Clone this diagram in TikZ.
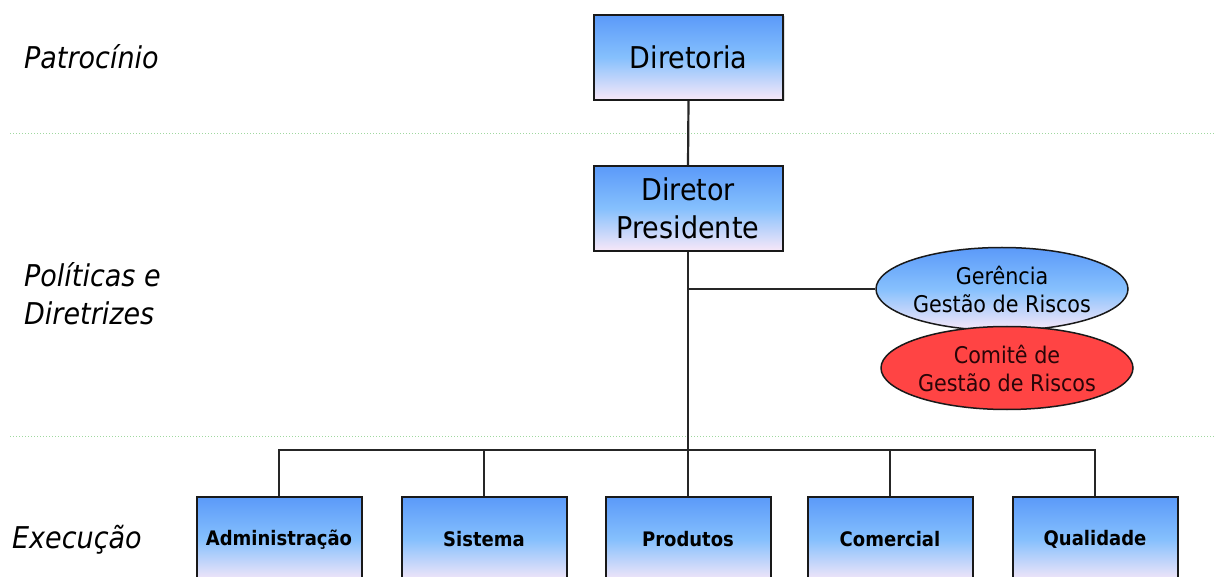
\documentclass[tikz,border=0pt]{standalone}
\usepackage{fontspec}
\setmainfont{DejaVu Sans Condensed}[BoldFont={DejaVu Sans Condensed Bold},ItalicFont={DejaVu Sans Condensed Oblique}]
\usetikzlibrary{shapes.geometric,shadows}
\definecolor{gtop}{HTML}{5B9AF9}
\definecolor{gmid}{HTML}{86C0FD}
\definecolor{gbot}{HTML}{F8E8F8}
\definecolor{redfill}{HTML}{FF4444}
\definecolor{redtext}{HTML}{2A0508}
\definecolor{sepline}{HTML}{9FD89F}
\definecolor{linecol}{HTML}{262626}
\tikzset{
  orgbox/.style={draw=black!90, line width=2pt, top color=gtop, bottom color=gbot, middle color=gmid,
    inner sep=0pt, align=center, drop shadow={opacity=0.25, shadow xshift=1.5pt, shadow yshift=-1.5pt}},
  topbox/.style={orgbox, minimum width=189pt, minimum height=85pt, font=\fontsize{30}{38}\selectfont},
  botbox/.style={orgbox, minimum width=165pt, minimum height=85pt, font=\fontsize{20}{24}\selectfont\bfseries},
  oval/.style={ellipse, draw=black!90, line width=1.5pt, inner sep=0pt, minimum width=252pt, minimum height=83pt,
    align=center, font=\fontsize{23}{28}\selectfont},
  sidelabel/.style={anchor=west, align=left, inner sep=0pt, font=\fontsize{30}{38}\selectfont\itshape},
  conn/.style={draw=linecol, line width=2.2pt},
  sep/.style={draw=sepline, line width=1pt, dotted}
}
\begin{document}
\begin{tikzpicture}[x=1pt,y=-1pt]
\useasboundingbox (0,0) rectangle (1216,577);
% separators
\coordinate (s1a) at (10,134); \coordinate (s1b) at (1216,134);
\coordinate (s2a) at (10,436); \coordinate (s2b) at (1216,436);
\draw[sep] (s1a) -- (s1b);
\draw[sep] (s2a) -- (s2b);
% side labels
\node[sidelabel] (lpat) at (24,57) {Patrocínio};
\node[sidelabel] (lpol) at (24,294) {Políticas e\\Diretrizes};
\node[sidelabel] (lexe) at (12,540) {Execução};
% main nodes
\node[topbox] (dir) at (688.5,57.5) {Diretoria};
\node[topbox] (pres) at (688,208.5) {Diretor\\Presidente};
\coordinate (bar) at (688,450);
\node[botbox] (adm) at (279,539.5) {Administração};
\node[botbox] (sis) at (484,539.5) {Sistema};
\node[botbox] (pro) at (688,539.5) {Produtos};
\node[botbox] (com) at (890,539.5) {Comercial};
\node[botbox] (qua) at (1095,539.5) {Qualidade};
% connectors
\draw[conn] (dir.south) -- (pres.north);
\draw[conn] (pres.south) -- (bar);
\foreach \b in {adm,sis,pro,com,qua} \draw[conn] (bar) -| (\b.north);
\node[oval, top color=gtop, bottom color=gbot, middle color=gmid] (ger) at (1002,289) {Gerência\\Gestão de Riscos};
\draw[conn] (pres.south |- ger.west) -- (ger.west);
\node[oval, fill=redfill, text=redtext] (comi) at (1007,368) {Comitê de\\Gestão de Riscos};
\end{tikzpicture}
\end{document}
